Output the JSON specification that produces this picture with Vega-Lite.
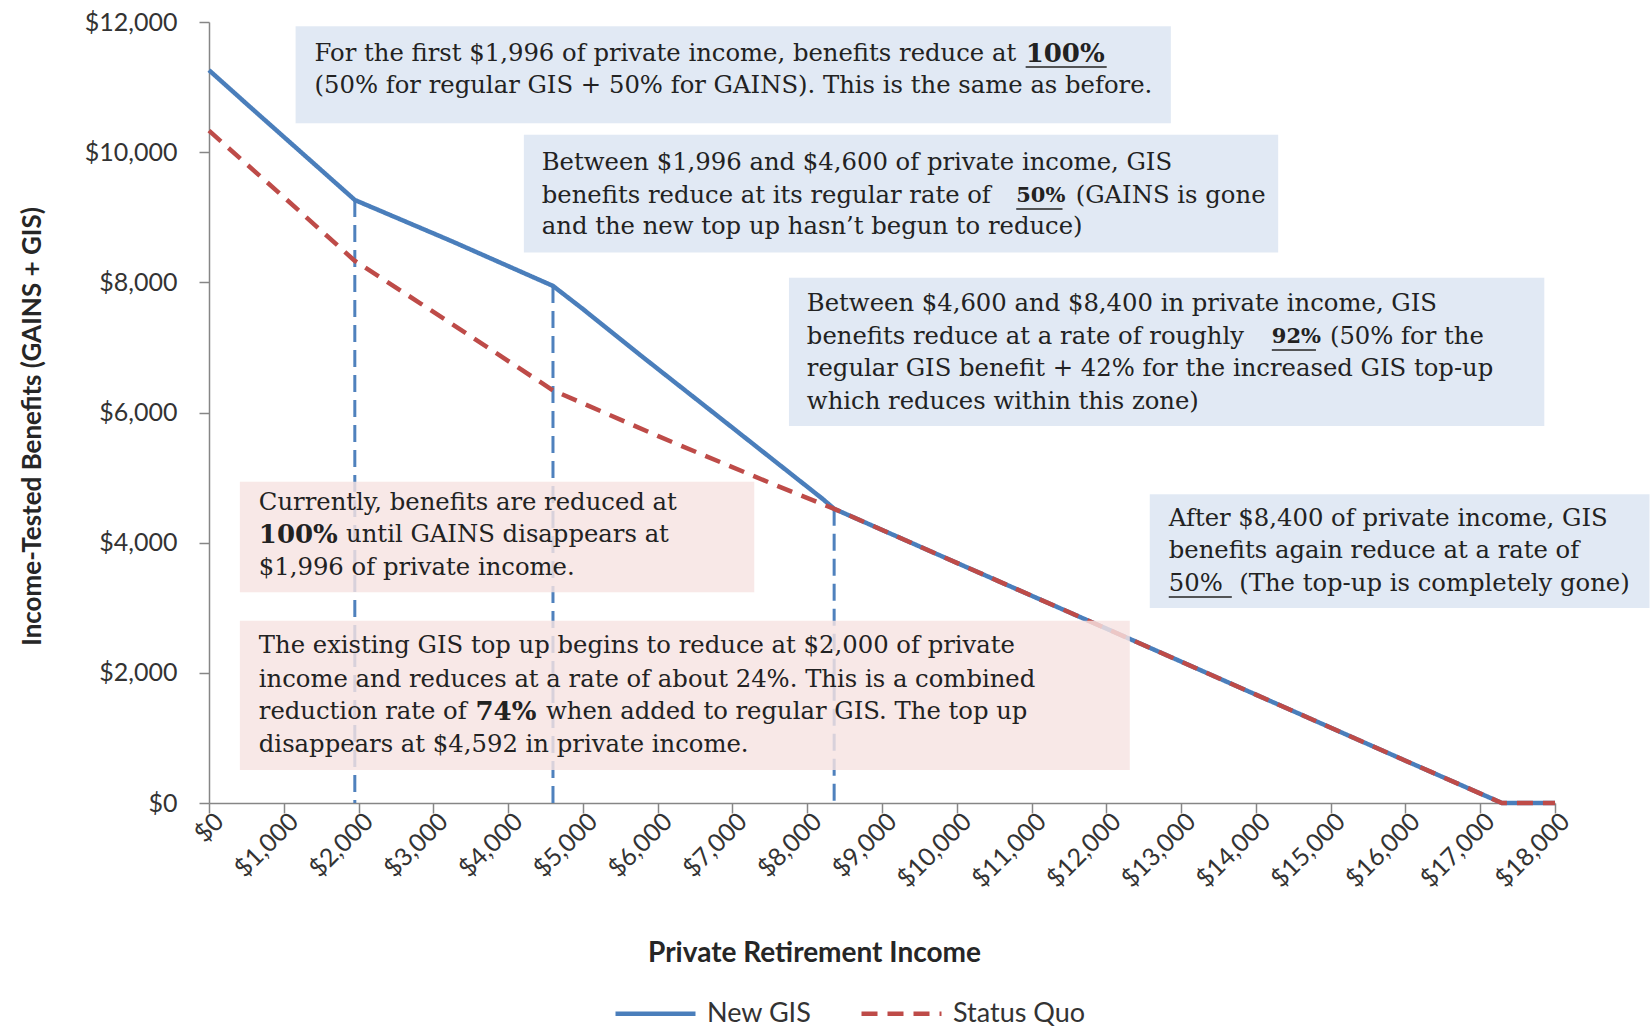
{
  "$schema": "https://vega.github.io/schema/vega-lite/v6.json",
  "width": 1346,
  "height": 781,
  "autosize": {"type": "none"},
  "padding": {"left": 209, "top": 22, "right": 95, "bottom": 225},
  "background": "white",
  "datasets": {
    "series": [
      {"x": 0, "y": 11260, "series": "New GIS"},
      {"x": 500, "y": 10745, "series": "New GIS"},
      {"x": 1000, "y": 10235, "series": "New GIS"},
      {"x": 1500, "y": 9725, "series": "New GIS"},
      {"x": 1950, "y": 9265, "series": "New GIS"},
      {"x": 3250, "y": 8630, "series": "New GIS"},
      {"x": 4600, "y": 7945, "series": "New GIS"},
      {"x": 5000, "y": 7590, "series": "New GIS"},
      {"x": 5764, "y": 6885, "series": "New GIS"},
      {"x": 6660, "y": 6075, "series": "New GIS"},
      {"x": 7542, "y": 5275, "series": "New GIS"},
      {"x": 8211, "y": 4668, "series": "New GIS"},
      {"x": 8360, "y": 4520, "series": "New GIS"},
      {"x": 10000, "y": 3690, "series": "New GIS"},
      {"x": 12000, "y": 2680, "series": "New GIS"},
      {"x": 14000, "y": 1665, "series": "New GIS"},
      {"x": 16000, "y": 650, "series": "New GIS"},
      {"x": 17290, "y": 0, "series": "New GIS"},
      {"x": 18000, "y": 0, "series": "New GIS"},
      {"x": 0, "y": 10330, "series": "Status Quo"},
      {"x": 1000, "y": 9310, "series": "Status Quo"},
      {"x": 1950, "y": 8330, "series": "Status Quo"},
      {"x": 2835, "y": 7670, "series": "Status Quo"},
      {"x": 4600, "y": 6340, "series": "Status Quo"},
      {"x": 6000, "y": 5640, "series": "Status Quo"},
      {"x": 7500, "y": 4920, "series": "Status Quo"},
      {"x": 8360, "y": 4520, "series": "Status Quo"},
      {"x": 10000, "y": 3690, "series": "Status Quo"},
      {"x": 12000, "y": 2680, "series": "Status Quo"},
      {"x": 14000, "y": 1665, "series": "Status Quo"},
      {"x": 16000, "y": 650, "series": "Status Quo"},
      {"x": 17290, "y": 0, "series": "Status Quo"},
      {"x": 18000, "y": 0, "series": "Status Quo"}
    ],
    "markers": [
      {"x": 1950, "y": 9265},
      {"x": 4600, "y": 7945},
      {"x": 8360, "y": 4520}
    ],
    "boxes": [
      {"x": 1158, "x_end": 12863, "y": 10446, "y_end": 11934, "tone": "new"},
      {"x": 4211, "x_end": 14298, "y": 8459, "y_end": 10269, "tone": "new"},
      {"x": 7756, "x_end": 17857, "y": 5791, "y_end": 8071, "tone": "new"},
      {"x": 413, "x_end": 7292, "y": 3237, "y_end": 4935, "tone": "current"},
      {"x": 413, "x_end": 12314, "y": 506, "y_end": 2801, "tone": "current"},
      {"x": 12581, "x_end": 19264, "y": 2995, "y_end": 4742, "tone": "new"}
    ],
    "notes": [
      {"x": 1411, "y": 11508, "text": "For the first $1,996 of private income, benefits reduce at", "emph": "normal"},
      {"x": 10921, "y": 11508, "text": "100%", "emph": "bold"},
      {"x": 1411, "y": 11017, "text": "(50% for regular GIS + 50% for GAINS).  This is the same as before.", "emph": "normal"},
      {"x": 4450, "y": 9834, "text": "Between $1,996 and $4,600 of private income, GIS", "emph": "normal"},
      {"x": 4450, "y": 9327, "text": "benefits reduce at its regular rate of", "emph": "normal"},
      {"x": 10795, "y": 9327, "text": "50%", "emph": "bold-narrow"},
      {"x": 11590, "y": 9327, "text": "(GAINS is gone", "emph": "normal"},
      {"x": 4450, "y": 8850, "text": "and the new top up hasn’t begun to reduce)", "emph": "normal"},
      {"x": 7995, "y": 7667, "text": "Between $4,600 and $8,400 in private income, GIS", "emph": "normal"},
      {"x": 7995, "y": 7160, "text": "benefits reduce at a rate of roughly", "emph": "normal"},
      {"x": 14213, "y": 7160, "text": "92%", "emph": "bold-narrow"},
      {"x": 14990, "y": 7160, "text": "(50% for the", "emph": "normal"},
      {"x": 7995, "y": 6668, "text": "regular GIS benefit + 42% for the increased GIS top-up", "emph": "normal"},
      {"x": 7995, "y": 6161, "text": "which reduces within this zone)", "emph": "normal"},
      {"x": 666, "y": 4610, "text": "Currently, benefits are reduced at", "emph": "normal"},
      {"x": 666, "y": 4118, "text": "100%", "emph": "bold"},
      {"x": 1833, "y": 4118, "text": "until GAINS disappears at", "emph": "normal"},
      {"x": 666, "y": 3611, "text": "$1,996 of private income.", "emph": "normal"},
      {"x": 666, "y": 2412, "text": "The existing GIS top up begins to reduce at $2,000 of private", "emph": "normal"},
      {"x": 666, "y": 1890, "text": "income and reduces at a rate of about 24%. This is a combined", "emph": "normal"},
      {"x": 666, "y": 1398, "text": "reduction rate of", "emph": "normal"},
      {"x": 3564, "y": 1398, "text": "74%", "emph": "bold"},
      {"x": 4506, "y": 1398, "text": "when added to regular GIS. The top up", "emph": "normal"},
      {"x": 666, "y": 891, "text": "disappears at $4,592 in private income.", "emph": "normal"},
      {"x": 12835, "y": 4370, "text": "After $8,400 of private income, GIS", "emph": "normal"},
      {"x": 12835, "y": 3869, "text": "benefits again reduce at a rate of", "emph": "normal"},
      {"x": 12835, "y": 3366, "text": "50%", "emph": "normal"},
      {"x": 13777, "y": 3366, "text": "(The top-up is completely gone)", "emph": "normal"}
    ],
    "underlines": [
      {"x": 10921, "x_end": 12005, "y": 11309},
      {"x": 10795, "x_end": 11414, "y": 9127},
      {"x": 14213, "x_end": 14803, "y": 6960},
      {"x": 12835, "x_end": 13678, "y": 3165}
    ]
  },
  "encoding": {
    "x": {"field": "x", "type": "quantitative", "scale": {"domain": [0, 18000], "nice": false},
      "axis": {
        "values": [0, 1000, 2000, 3000, 4000, 5000, 6000, 7000, 8000, 9000, 10000, 11000, 12000, 13000, 14000, 15000, 16000, 17000, 18000],
        "format": "$,.0f", "labelAngle": -45, "labelAlign": "right", "labelBaseline": "middle",
        "tickSize": 10, "labelPadding": 4, "labelOffset": 10, "labelOverlap": false, "labelFlush": false,
        "title": "Private Retirement Income", "titleFontSize": 28, "titleX": 605, "titleY": 150, "titleBaseline": "middle", "titleAlign": "center"
      }
    },
    "y": {"field": "y", "type": "quantitative", "scale": {"domain": [0, 12000], "nice": false},
      "axis": {
        "values": [0, 2000, 4000, 6000, 8000, 10000, 12000],
        "format": "$,.0f", "tickSize": 10, "labelPadding": 22,
        "title": "Income-Tested Benefits (GAINS + GIS)", "titleFontSize": 26, "titleX": -177, "titleY": 404, "titleAngle": 270, "titleBaseline": "middle", "titleAlign": "center"
      }
    }
  },
  "layer": [
    {
      "data": {"name": "markers"},
      "mark": {"type": "rule", "color": "#4F81BD", "strokeWidth": 3, "strokeDash": [17, 8]},
      "encoding": {"y2": {"datum": 0}}
    },
    {
      "data": {"name": "series"},
      "mark": {"type": "line", "strokeWidth": 4.5},
      "encoding": {
        "color": {"field": "series", "type": "nominal", "scale": {"domain": ["New GIS", "Status Quo"], "range": ["#4A7EBB", "#BE4B48"]},
          "legend": {"orient": "none", "direction": "horizontal", "legendX": 404, "legendY": 949, "title": null,
            "symbolType": "stroke", "symbolSize": 6400, "symbolStrokeWidth": 4.5, "labelFontSize": 27, "labelFont": "Lato",
            "labelColor": "#333333", "labelOffset": 9, "columnPadding": 40, "padding": 0}
        },
        "strokeDash": {"field": "series", "type": "nominal", "scale": {"domain": ["New GIS", "Status Quo"], "range": [[1, 0], [16, 10]]},
          "legend": {"orient": "none", "direction": "horizontal", "legendX": 404, "legendY": 949, "title": null,
            "symbolType": "stroke", "symbolSize": 6400, "symbolStrokeWidth": 4.5, "labelFontSize": 27, "labelFont": "Lato",
            "labelColor": "#333333", "labelOffset": 9, "columnPadding": 40, "padding": 0}
        }
      }
    },
    {
      "data": {"name": "boxes"},
      "mark": {"type": "rect", "opacity": 0.82},
      "encoding": {
        "x2": {"field": "x_end"},
        "y2": {"field": "y_end"},
        "fill": {"field": "tone", "type": "nominal", "scale": {"domain": ["new", "current"], "range": ["#DAE4F1", "#F6E3E2"]}, "legend": null}
      }
    },
    {
      "data": {"name": "notes"},
      "transform": [{"filter": "datum.emph === 'normal'"}],
      "mark": {"type": "text", "align": "left", "baseline": "middle", "font": "DejaVu Serif", "fontSize": 24.3, "color": "#222222"},
      "encoding": {"text": {"field": "text"}}
    },
    {
      "data": {"name": "notes"},
      "transform": [{"filter": "datum.emph === 'bold'"}],
      "mark": {"type": "text", "align": "left", "baseline": "middle", "font": "DejaVu Serif", "fontSize": 26, "fontWeight": "bold", "color": "#222222"},
      "encoding": {"text": {"field": "text"}}
    },
    {
      "data": {"name": "notes"},
      "transform": [{"filter": "datum.emph === 'bold-narrow'"}],
      "mark": {"type": "text", "align": "left", "baseline": "middle", "font": "DejaVu Serif", "fontSize": 21, "fontWeight": "bold", "color": "#222222"},
      "encoding": {"text": {"field": "text"}}
    },
    {
      "data": {"name": "underlines"},
      "mark": {"type": "rule", "color": "#222222", "strokeWidth": 1.6},
      "encoding": {"x2": {"field": "x_end"}}
    }
  ],
  "config": {
    "view": {"stroke": null},
    "axis": {
      "grid": false, "domainColor": "#868686", "tickColor": "#868686", "domainWidth": 1.5, "tickWidth": 1.5,
      "labelFont": "Lato", "labelFontSize": 25, "labelColor": "#333333",
      "titleFont": "Lato", "titleFontWeight": "bold", "titleColor": "#262626"
    }
  }
}
